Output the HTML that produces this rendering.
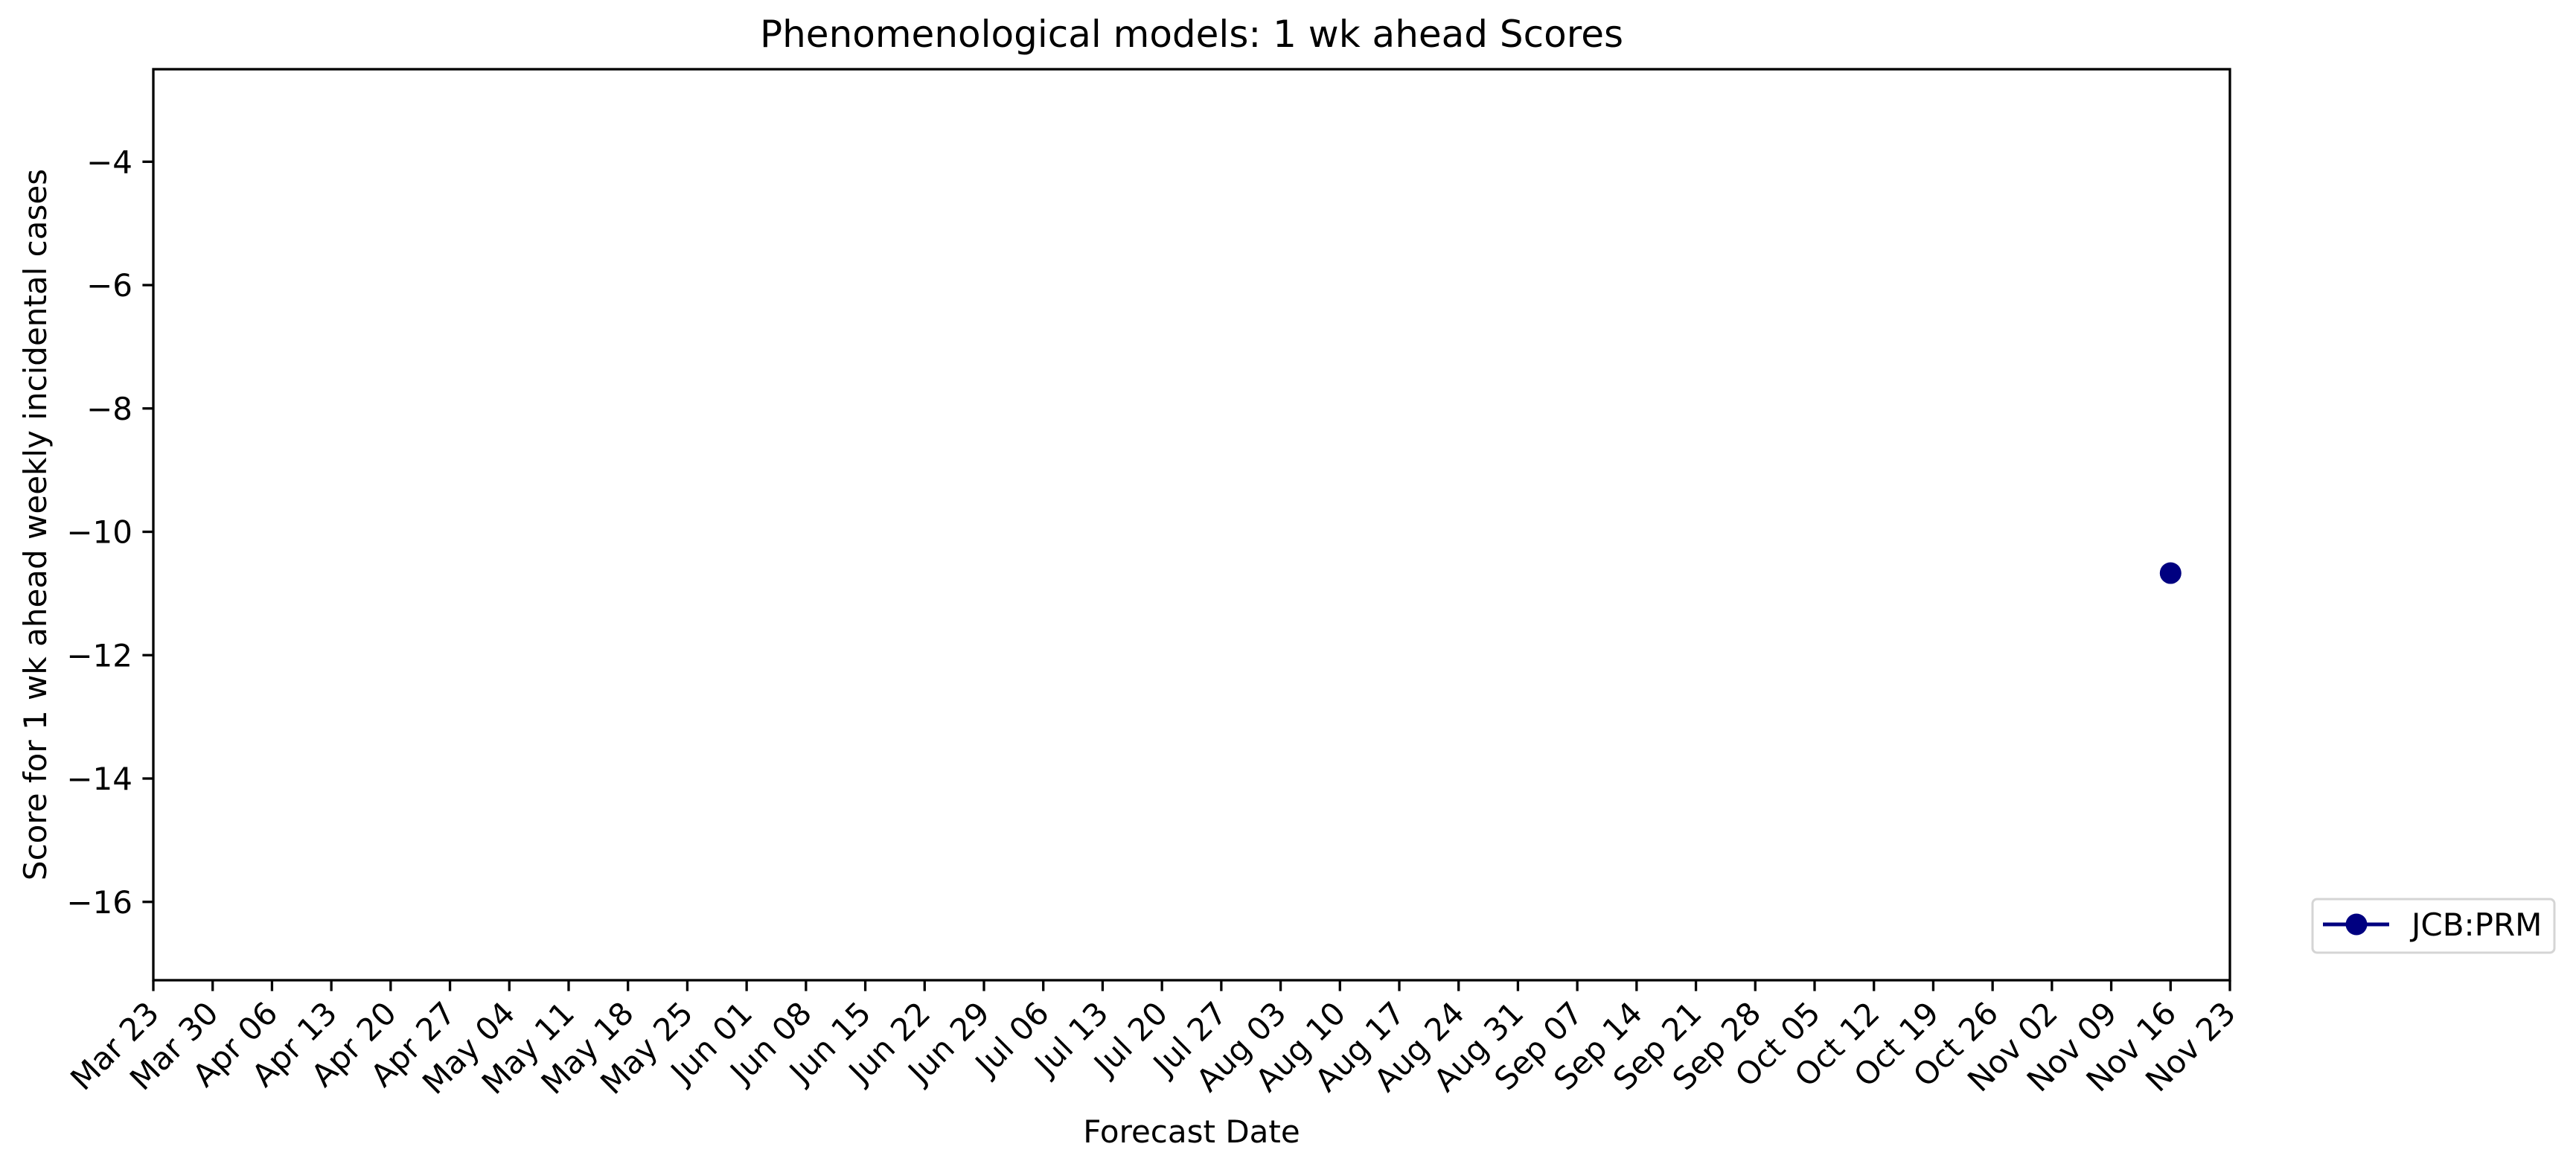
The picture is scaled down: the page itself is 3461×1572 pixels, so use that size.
<!DOCTYPE html>
<html><head><meta charset="utf-8"><style>
html,body{margin:0;padding:0;background:#fff;}
svg{display:block;font-family:"DejaVu Sans","Liberation Sans",sans-serif;}
</style></head><body>
<svg id="chart" width="3461" height="1572" viewBox="0 0 3461 1572" xmlns="http://www.w3.org/2000/svg">
<rect width="3461" height="1572" fill="#fff"/>
<text x="1601" y="63" font-size="50" text-anchor="middle">Phenomenological models: 1 wk ahead Scores</text>
<text x="1601" y="1535" font-size="42" text-anchor="middle">Forecast Date</text>
<text transform="translate(62,705) rotate(-90)" font-size="42" text-anchor="middle">Score for 1 wk ahead weekly incidental cases</text>
<g id="xticks"></g>
<g id="yticks"></g>
<g id="marks"></g>
<rect x="206" y="93" width="2790" height="1224" fill="none" stroke="#000" stroke-width="3.3"/>
<g>
<rect x="3107" y="1208" width="325" height="72" rx="6" fill="#fff" stroke="#d5d5d5" stroke-width="3"/>
<line x1="3121" y1="1242" x2="3210" y2="1242" stroke="#000080" stroke-width="5"/>
<circle cx="3166" cy="1242" r="14.5" fill="#000080"/>
<text x="3240" y="1257" font-size="42">JCB:PRM</text>
</g>
</svg>
<script>
const xLabels = ["Mar 23","Mar 30","Apr 06","Apr 13","Apr 20","Apr 27","May 04","May 11","May 18","May 25","Jun 01","Jun 08","Jun 15","Jun 22","Jun 29","Jul 06","Jul 13","Jul 20","Jul 27","Aug 03","Aug 10","Aug 17","Aug 24","Aug 31","Sep 07","Sep 14","Sep 21","Sep 28","Oct 05","Oct 12","Oct 19","Oct 26","Nov 02","Nov 09","Nov 16","Nov 23"];
const yTicks = [-4,-6,-8,-10,-12,-14,-16];
const seriesWeeks = [34];
const seriesValues = [-10.67];

const NS = "http://www.w3.org/2000/svg";
const L=206,R=2996,T=93,B=1317, yMin=-17.27, yMax=-2.50;
function xScale(i){return L + i*(R-L)/(xLabels.length-1);}
function yScale(v){return T + (yMax-v)/(yMax-yMin)*(B-T);}
function mk(tag,attrs){const e=document.createElementNS(NS,tag);for(const k in attrs)e.setAttribute(k,attrs[k]);return e;}

const gx=document.getElementById('xticks');
xLabels.forEach((lab,i)=>{
  const x=xScale(i);
  const t=mk('line',{x1:x,y1:B,x2:x,y2:B+14.6,stroke:'#000','stroke-width':3.3});
  
  
  gx.appendChild(t);
  const tx=mk('text',{x:0,y:0,'font-size':42,'text-anchor':'end',transform:`translate(${x+10},1364) rotate(-45)`});
  
  
  tx.textContent=lab;
  gx.appendChild(tx);
});
const gy=document.getElementById('yticks');
yTicks.forEach(v=>{
  const y=yScale(v);
  const t=mk('line',{x1:L-14.6,y1:y,x2:L,y2:y,stroke:'#000','stroke-width':3.3});
  
  
  gy.appendChild(t);
  const tx=mk('text',{x:L-28,y:y+15,'font-size':42,'text-anchor':'end'});
  
  
  tx.textContent='\u2212'+Math.abs(v);
  gy.appendChild(tx);
});
const gm=document.getElementById('marks');
seriesValues.forEach((v,i)=>{
  const c=mk('circle',{cx:xScale(seriesWeeks[i]),cy:yScale(v),r:14.5,fill:'#000080'});
  
  
  gm.appendChild(c);
});
</script>
</body></html>
